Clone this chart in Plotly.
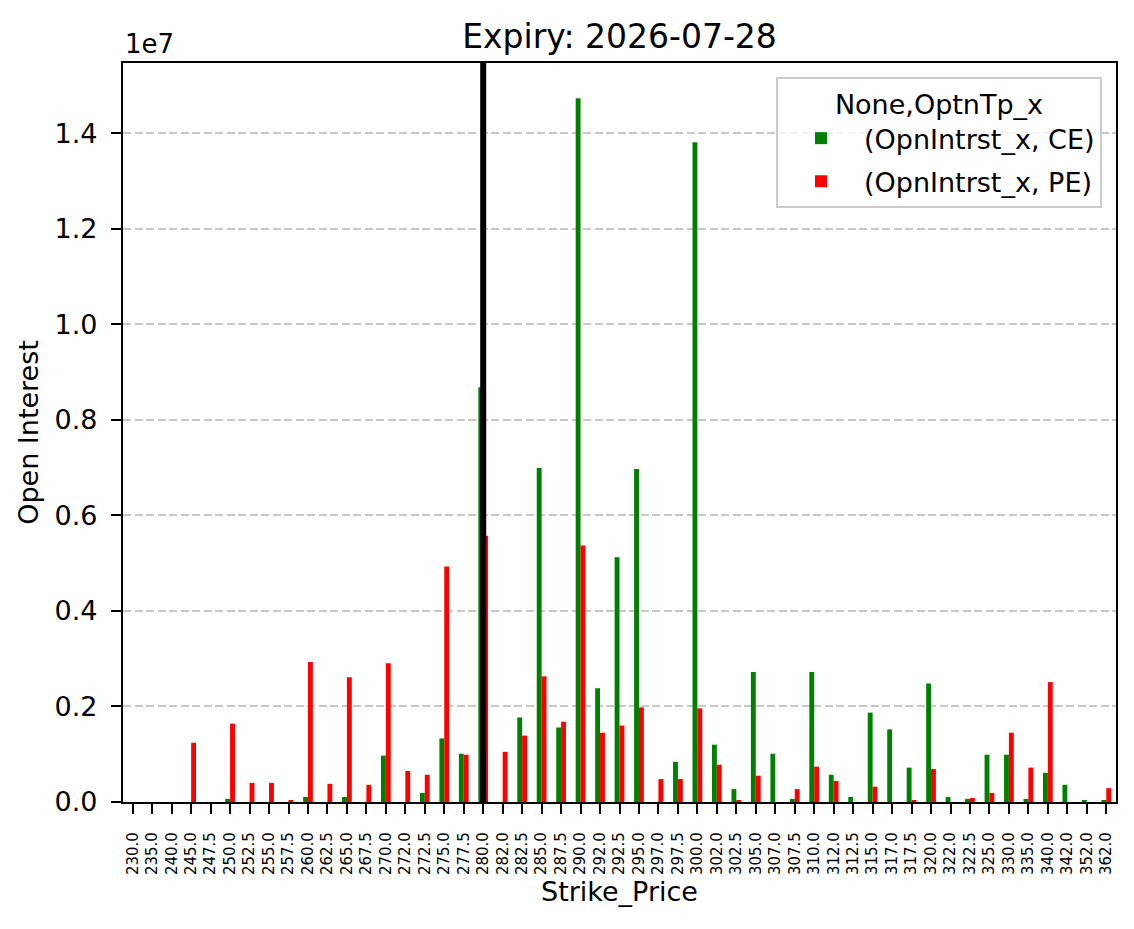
import plotly.graph_objects as go

strikes = ["230.0","235.0","240.0","245.0","247.5","250.0","252.5","255.0","257.5","260.0",
           "262.5","265.0","267.5","270.0","272.0","272.5","275.0","277.5","280.0","282.0",
           "282.5","285.0","287.5","290.0","292.0","292.5","295.0","297.0","297.5","300.0",
           "302.0","302.5","305.0","307.0","307.5","310.0","312.0","312.5","315.0","317.0",
           "317.5","320.0","322.0","322.5","325.0","330.0","335.0","340.0","342.0","352.0","362.0"]

oi_ce = [0, 0, 0, 0, 0, 65000, 0, 0, 0, 105000,
         0, 105000, 0, 970000, 0, 190000, 1330000, 1010000, 8680000, 0,
         1770000, 6990000, 1560000, 14730000, 2380000, 5120000, 6970000, 0, 840000, 13810000,
         1200000, 270000, 2720000, 1010000, 65000, 2720000, 570000, 105000, 1870000, 1520000,
         720000, 2480000, 105000, 65000, 990000, 990000, 65000, 610000, 360000, 40000, 40000]

oi_pe = [0, 0, 0, 1240000, 0, 1640000, 400000, 400000, 40000, 2930000,
         380000, 2610000, 360000, 2905000, 650000, 570000, 4930000, 990000, 5570000, 1050000,
         1390000, 2630000, 1680000, 5370000, 1450000, 1600000, 1980000, 480000, 480000, 1960000,
         780000, 40000, 550000, 0, 270000, 740000, 440000, 0, 320000, 0,
         40000, 690000, 0, 84000, 190000, 1450000, 720000, 2510000, 0, 0, 290000]

series_names = ["(OpnIntrst_x, CE)", "(OpnIntrst_x, PE)"]
legend_title = "None,OptnTp_x"
spot_strike = "280.0"
y_tick_vals = [0, 2e6, 4e6, 6e6, 8e6, 10e6, 12e6, 14e6]
y_tick_text = ["0.0", "0.2", "0.4", "0.6", "0.8", "1.0", "1.2", "1.4"]
title_text = "Expiry: 2026-07-28"

FONT = "DejaVu Sans"
W, H = 1134, 929
L, R, T, B = 123, 18, 63, 127

fig = go.Figure()
fig.add_trace(go.Bar(x=strikes, y=oi_ce, name=series_names[0], legendgroup="ce",
                     marker=dict(color="#008000", line=dict(width=0))))
fig.add_trace(go.Bar(x=strikes, y=oi_pe, name=series_names[1], legendgroup="pe",
                     marker=dict(color="#ff0000", line=dict(width=0))))

ymax = max(max(oi_ce), max(oi_pe)) * 1.05

fig.add_shape(type="line", xref="x", yref="paper",
              x0=strikes.index(spot_strike), x1=strikes.index(spot_strike), y0=0, y1=1,
              line=dict(color="black", width=6), layer="above")

fig.add_annotation(text="1e7", xref="paper", yref="paper", x=0, y=1, xanchor="left", yanchor="bottom",
                   yshift=2, showarrow=False, font=dict(family=FONT, size=26, color="black"))

fig.update_layout(
    width=W, height=H,
    margin=dict(l=L, r=R, t=T, b=B, pad=0),
    paper_bgcolor="white", plot_bgcolor="white",
    barmode="group", bargap=0.5, bargroupgap=0,
    font=dict(family=FONT, color="black"),
    title=dict(text=title_text, x=0.5, xref="paper", xanchor="center",
               y=1 - 36 / H, yref="container", yanchor="middle",
               font=dict(family=FONT, size=33, color="black")),
    legend=dict(
        title=dict(text=legend_title, side="top center", font=dict(family=FONT, size=27)),
        font=dict(family=FONT, size=27, color="black"),
        x=(1102 - L) / (W - L - R), y=(H - B - 77) / (H - T - B),
        xanchor="right", yanchor="top",
        bgcolor="rgba(255,255,255,0.8)", bordercolor="#cccccc", borderwidth=2,
        itemwidth=76, tracegroupgap=5,
    ),
    xaxis=dict(
        type="category", range=[-0.5, len(strikes) - 0.5],
        showline=True, mirror=True, linecolor="black", linewidth=2.2,
        ticks="outside", ticklen=10, tickwidth=2.2, tickcolor="black",
        tickangle=-90, tickfont=dict(family=FONT, size=15, color="black"),
        ticklabelstandoff=12,
        showgrid=False, zeroline=False,
        title=dict(text="Strike_Price", font=dict(family=FONT, size=27, color="black"), standoff=8),
    ),
    yaxis=dict(
        range=[0, ymax],
        tickvals=y_tick_vals, ticktext=y_tick_text,
        showline=True, mirror=True, linecolor="black", linewidth=2.2,
        ticks="outside", ticklen=10, tickwidth=2.2, tickcolor="black",
        tickfont=dict(family=FONT, size=27, color="black"),
        ticklabelstandoff=8,
        showgrid=True, gridcolor="rgba(176,176,176,0.7)", gridwidth=2.2, griddash="8px,3.5px",
        zeroline=False,
        title=dict(text="Open Interest", font=dict(family=FONT, size=27, color="black"), standoff=8),
    ),
)

fig.write_html("out.html")
